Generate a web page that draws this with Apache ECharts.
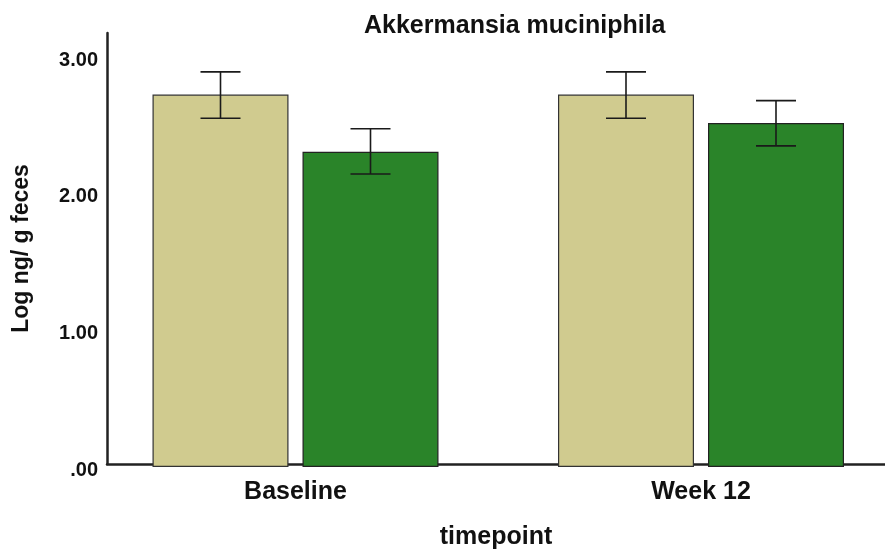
<!DOCTYPE html>
<html>
<head>
<meta charset="utf-8">
<script src="https://cdn.jsdelivr.net/npm/echarts@6/dist/echarts.min.js"></script>
<style>
html,body{margin:0;padding:0;background:#fff;overflow:hidden;}
#chart{width:905px;height:555px;}
</style>
</head>
<body>
<div id="chart"></div>
<script>
// Data
const categories = ['Baseline', 'Week 12'];
const tanMean = [2.708, 2.708];
const tanLower = [2.536, 2.536];
const tanUpper = [2.873, 2.873];
const greenMean = [2.293, 2.502];
const greenLower = [2.131, 2.335];
const greenUpper = [2.460, 2.664];
const yMin = 0, yMax = 3.156, yInterval = 1;

const FONT = 'Liberation Sans, Arial, sans-serif';
const BAR_W = 136, BAR_GAP = 14;
const HALF = (BAR_W + BAR_GAP) / 2;
const CAP = 20;

function errRender(offset) {
  return function (params, api) {
    const idx = api.value(0);
    const lo = api.coord([idx, api.value(1)]);
    const hi = api.coord([idx, api.value(2)]);
    const x = lo[0] + offset;
    const st = { stroke: '#1a1a1a', lineWidth: 1.6 };
    return {
      type: 'group',
      children: [
        { type: 'line', shape: { x1: x, y1: lo[1], x2: x, y2: hi[1] }, style: st },
        { type: 'line', shape: { x1: x - CAP, y1: lo[1], x2: x + CAP, y2: lo[1] }, style: st },
        { type: 'line', shape: { x1: x - CAP, y1: hi[1], x2: x + CAP, y2: hi[1] }, style: st }
      ]
    };
  };
}

const chart = echarts.init(document.getElementById('chart'), null, { renderer: 'canvas' });
chart.setOption({
  animation: false,
  backgroundColor: '#fff',
  title: {
    text: 'Akkermansia muciniphila',
    left: 359, top: 9,
    textStyle: { fontFamily: FONT, fontSize: 25, fontWeight: 'bold', color: '#111' }
  },
  grid: [
    { left: 92.75, right: 1.25, top: 33, bottom: 88, containLabel: false },
    { left: 107, right: 20, top: 33, bottom: 88, containLabel: false }
  ],
  xAxis: [
    {
      gridIndex: 0, type: 'category', data: categories,
      axisLine: { show: false }, axisTick: { show: false },
      axisLabel: { fontFamily: FONT, fontSize: 25, fontWeight: 'bold', color: '#111', margin: 13 }
    },
    {
      gridIndex: 1, type: 'value', min: 0, max: 1,
      axisLine: { show: true, lineStyle: { color: '#222', width: 2.5 } },
      axisTick: { show: false }, axisLabel: { show: false }, splitLine: { show: false },
      name: 'timepoint', nameLocation: 'middle', nameGap: 61,
      nameTextStyle: { fontFamily: FONT, fontSize: 25, fontWeight: 'bold', color: '#111' }
    }
  ],
  yAxis: [
    {
      gridIndex: 0, type: 'value', min: yMin, max: yMax, interval: yInterval, show: false
    },
    {
      gridIndex: 1, type: 'value', min: yMin, max: yMax, interval: yInterval,
      axisLine: { show: true, lineStyle: { color: '#222', width: 2.5 } },
      axisTick: { show: false }, splitLine: { show: false },
      axisLabel: {
        fontFamily: FONT, fontSize: 20, fontWeight: 'bold', color: '#111', margin: 9,
        verticalAlign: 'top', lineHeight: 12,
        formatter: function (v) {
          if (Math.abs(v - Math.round(v)) > 1e-6) return '';
          return v === 0 ? '.00' : v.toFixed(2);
        }
      },
      name: 'Log ng/ g feces', nameLocation: 'middle', nameRotate: 90, nameGap: 74,
      nameTextStyle: { fontFamily: FONT, fontSize: 23, fontWeight: 'bold', color: '#111' }
    }
  ],
  series: [
    {
      type: 'bar', xAxisIndex: 0, yAxisIndex: 0, data: tanMean,
      barWidth: BAR_W, barGap: (BAR_GAP / BAR_W * 100) + '%',
      itemStyle: { color: '#D0CB8F', borderColor: '#333', borderWidth: 1.2 }, z: 2
    },
    {
      type: 'bar', xAxisIndex: 0, yAxisIndex: 0, data: greenMean,
      barWidth: BAR_W,
      itemStyle: { color: '#2A8429', borderColor: '#222', borderWidth: 1.2 }, z: 2
    },
    {
      type: 'custom', xAxisIndex: 0, yAxisIndex: 0, z: 5,
      renderItem: errRender(-HALF),
      data: categories.map((c, i) => [i, tanLower[i], tanUpper[i]])
    },
    {
      type: 'custom', xAxisIndex: 0, yAxisIndex: 0, z: 5,
      renderItem: errRender(HALF),
      data: categories.map((c, i) => [i, greenLower[i], greenUpper[i]])
    }
  ]
});
</script>
</body>
</html>
